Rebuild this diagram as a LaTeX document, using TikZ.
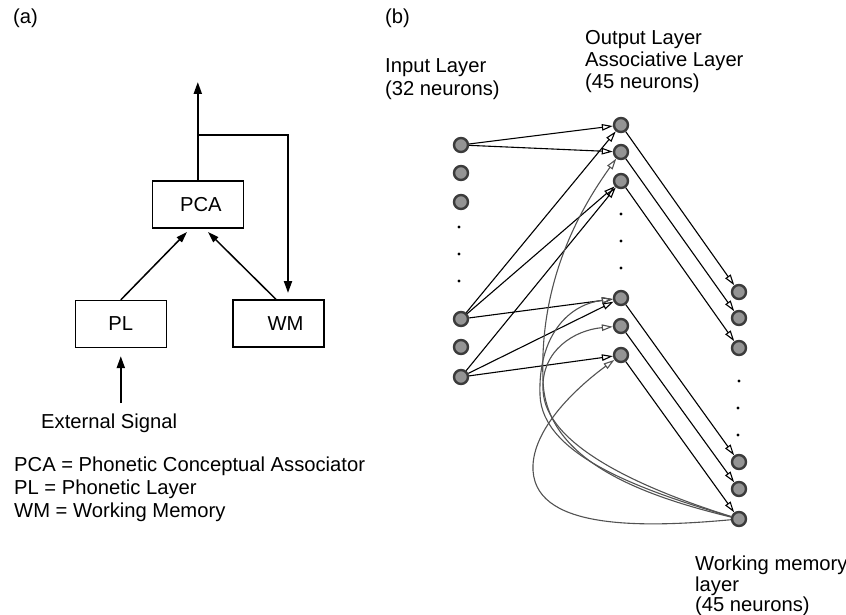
\documentclass[tikz,border=0pt]{standalone}
\usepackage{fontspec}
\setmainfont{Liberation Sans}
\usetikzlibrary{arrows.meta}
\begin{document}
\begin{tikzpicture}[x=1pt,y=-1pt,
  txt/.style={anchor=base west, inner sep=0pt, font=\fontsize{20.2}{22}\selectfont},
  box/.style={draw, line width=1.3pt, minimum width=91pt, minimum height=47pt, inner sep=0pt, font=\fontsize{20.2}{22}\selectfont},
  neuron/.style={circle, draw=black!77, fill=black!42, line width=2.4pt, minimum size=14pt, inner sep=0pt},
  ndot/.style={circle, fill=black, minimum size=3.4pt, inner sep=0pt},
  link/.style={line width=1.1pt, -{Triangle[open,length=11pt,width=6.5pt]}},
  glink/.style={link, draw=black!68},
  thickarr/.style={line width=2pt, -{Triangle[length=12pt,width=8pt]}},
  thinarr/.style={line width=1.5pt, -{Triangle[length=11pt,width=7pt]}}
]
\useasboundingbox (0,0) rectangle (846,615);

% ---------- part (a) ----------
\node[txt] (la) at (13,24) {(a)};
\node[box] (pca) at (197.8,204.5) {\hspace*{6pt}PCA};
\node[box] (pl) at (120.8,324) {PL};
\node[box] (wm) at (278.5,323.5) {\hspace*{14pt}WM};
\coordinate (top) at (197.8,82);
\coordinate (junc) at (197.8,135);
\coordinate (wmin) at (288,293);
\coordinate (pcaL) at (187,232);
\coordinate (pcaR) at (208,232);
\coordinate (extsrc) at (120.8,403);
\draw[thickarr] (pca.north) -- (top);
\draw[thickarr] (junc) -| (wmin);
\draw[thinarr] (pl.north) -- (pcaL);
\draw[thinarr] ([xshift=-2.5pt]wm.north) -- (pcaR);
\draw[thickarr, shorten >=8pt] (extsrc) -- (pl.south);
\node[txt] (ext) at (41,428) {External Signal};
\node[txt] (lg1) at (14,471) {PCA = Phonetic Conceptual Associator};
\node[txt] (lg2) at (14,494) {PL = Phonetic Layer};
\node[txt] (lg3) at (14,517) {WM = Working Memory};

% ---------- part (b) ----------
\node[txt] (lb) at (385,24) {(b)};
\node[txt] (il1) at (385,73) {Input Layer};
\node[txt] (il2) at (385,96) {(32 neurons)};
\node[txt] (ol1) at (585,45) {Output Layer};
\node[txt] (ol2) at (585,67) {Associative Layer};
\node[txt] (ol3) at (585,89) {(45 neurons)};
\node[txt] (wl1) at (695,570) {Working memory};
\node[txt] (wl2) at (695,591) {layer};
\node[txt] (wl3) at (695,611) {(45 neurons)};

% input layer
\node[neuron] (in1) at (461,145) {};
\node[neuron] (in2) at (461,173) {};
\node[neuron] (in3) at (461,202) {};
\node[ndot] (id1) at (459,227) {};
\node[ndot] (id2) at (459,254) {};
\node[ndot] (id3) at (459,281) {};
\node[neuron] (in7) at (461,319) {};
\node[neuron] (in8) at (461,347) {};
\node[neuron] (in9) at (461,377) {};

% output layer
\node[neuron] (out1) at (621,125) {};
\node[neuron] (out2) at (621,152) {};
\node[neuron] (out3) at (621,181) {};
\node[ndot] (od1) at (621,214) {};
\node[ndot] (od2) at (621,241) {};
\node[ndot] (od3) at (621,268) {};
\node[neuron] (out7) at (621,298) {};
\node[neuron] (out8) at (621,326) {};
\node[neuron] (out9) at (621,355) {};

% working memory layer
\node[neuron] (wm1) at (739,292) {};
\node[neuron] (wm2) at (739,318) {};
\node[neuron] (wm3) at (739,348) {};
\node[ndot] (wd1) at (739,381) {};
\node[ndot] (wd2) at (738,408) {};
\node[ndot] (wd3) at (738,435) {};
\node[neuron] (wm7) at (739,462) {};
\node[neuron] (wm8) at (739,489) {};
\node[neuron] (wm9) at (739,519) {};

% input -> output
\draw[link] (in1) -- (out1);
\draw[link] (in1) -- (out2);
\draw[link] (in7) -- (out1);
\draw[link] (in7) -- (out3);
\draw[link] (in9) -- (out3);
\draw[link] (in7) -- (out7);
\draw[link] (in9) -- (out7);
\draw[link] (in9) -- (out9);

% output -> working memory
\draw[link] (out1) -- (wm1);
\draw[link] (out2) -- (wm2);
\draw[link] (out3) -- (wm3);
\draw[link] (out7) -- (wm7);
\draw[link] (out8) -- (wm8);
\draw[link] (out9) -- (wm9);

% working memory -> output (feedback)
\draw[glink] (wm9) .. controls (640,495) and (545,460) .. (543,380) .. controls (540,300) and (565,230) .. (out2);
\draw[glink] (wm9) .. controls (640,490) and (542,455) .. (540,395) .. controls (538,340) and (565,305) .. (out7);
\draw[glink] (wm9) .. controls (640,488) and (545,445) .. (543,390) .. controls (541,350) and (575,330) .. (out8);
\draw[glink] (wm9) .. controls (640,528) and (530,530) .. (533,465) .. controls (535,425) and (580,385) .. (out9);
\end{tikzpicture}
\end{document}
